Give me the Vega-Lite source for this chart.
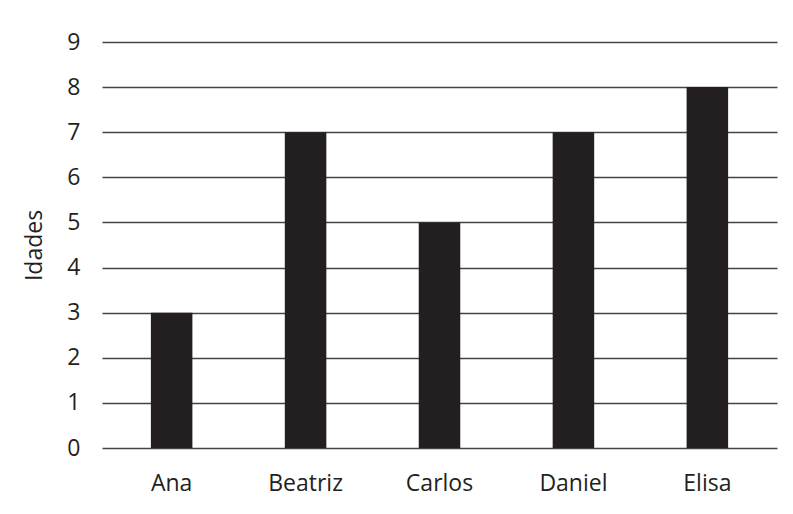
{
  "$schema": "https://vega.github.io/schema/vega-lite/v6.json",
  "autosize": {"type": "none"},
  "padding": {"left": 102, "top": 42, "right": 16, "bottom": 66},
  "width": 675,
  "height": 406,
  "background": "white",
  "config": {
    "view": {"stroke": null},
    "font": "Open Sans",
    "axis": {"labelFont": "Open Sans", "titleFont": "Open Sans", "labelColor": "#231f20", "titleColor": "#231f20"}
  },
  "data": {
    "values": [
      {"nome": "Ana", "idade": 3},
      {"nome": "Beatriz", "idade": 7},
      {"nome": "Carlos", "idade": 5},
      {"nome": "Daniel", "idade": 7},
      {"nome": "Elisa", "idade": 8}
    ]
  },
  "mark": {"type": "bar", "color": "#231f20"},
  "encoding": {
    "x": {
      "field": "nome",
      "type": "nominal",
      "sort": null,
      "scale": {"paddingInner": 0.69, "paddingOuter": 0.365},
      "axis": {"title": null, "labelAngle": 0, "labelFontSize": 23, "labelPadding": 24, "ticks": false, "domain": false, "grid": false}
    },
    "y": {
      "field": "idade",
      "type": "quantitative",
      "scale": {"domain": [0, 9], "nice": false},
      "axis": {
        "title": "Idades",
        "titleFontSize": 23,
        "titleFontWeight": "normal",
        "titlePadding": 20,
        "values": [0, 1, 2, 3, 4, 5, 6, 7, 8, 9],
        "labelFontSize": 23,
        "labelPadding": 22,
        "ticks": false,
        "domain": false,
        "grid": true,
        "gridColor": "#444444",
        "gridWidth": 1.5,
        "gridOpacity": 1,
        "zindex": 0
      }
    }
  }
}
